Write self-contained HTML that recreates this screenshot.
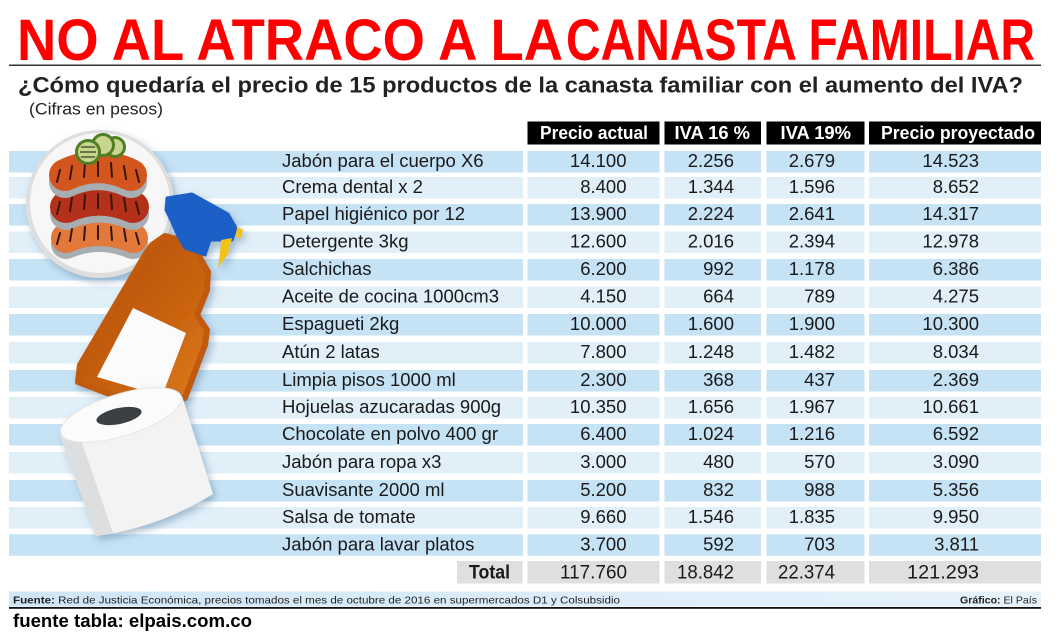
<!DOCTYPE html>
<html><head><meta charset="utf-8"><style>
html,body{margin:0;padding:0;background:#fff;}
svg{display:block;}
text{font-family:"Liberation Sans",sans-serif;}
</style></head><body>
<svg width="1056" height="640" viewBox="0 0 1056 640" xmlns="http://www.w3.org/2000/svg">
<defs>
<filter id="sh" x="-20%" y="-20%" width="140%" height="140%"><feDropShadow dx="3" dy="4" stdDeviation="4" flood-color="#4f7698" flood-opacity="0.45"/></filter>
<linearGradient id="bot" x1="0" y1="0" x2="1" y2="1"><stop offset="0" stop-color="#b04c0c"/><stop offset="0.6" stop-color="#c9620f"/><stop offset="1" stop-color="#e07c1c"/></linearGradient>
<linearGradient id="foot" x1="0" y1="0" x2="1" y2="0"><stop offset="0" stop-color="#cfe6f7"/><stop offset="1" stop-color="#e6f2fb"/></linearGradient>
</defs>

<!-- Title -->
<text x="17" y="60" font-weight="bold" font-size="58" fill="#ff0000" textLength="546" lengthAdjust="spacingAndGlyphs">NO AL ATRACO A LA</text>
<text x="566" y="60" font-weight="bold" font-size="58" fill="#ff0000" textLength="469" lengthAdjust="spacingAndGlyphs">CANASTA FAMILIAR</text>
<rect x="9" y="64.5" width="1032" height="1.5" fill="#333"/>

<text x="18" y="92.5" font-weight="bold" font-size="22" fill="#222" textLength="1005" lengthAdjust="spacingAndGlyphs">¿Cómo quedaría el precio de 15 productos de la canasta familiar con el aumento del IVA?</text>
<text x="29" y="114.5" font-size="17" fill="#222" textLength="134" lengthAdjust="spacingAndGlyphs">(Cifras en pesos)</text>

<!-- Header -->
<g fill="#000">
<rect x="527.5" y="121.5" width="132" height="23"/>
<rect x="664.5" y="121.5" width="96.5" height="23"/>
<rect x="766.5" y="121.5" width="98" height="23"/>
<rect x="869" y="121.5" width="172" height="23"/>
</g>
<g fill="#fff" font-weight="bold" font-size="18">
<text x="540" y="139" textLength="108" lengthAdjust="spacingAndGlyphs">Precio actual</text>
<text x="674.5" y="139" textLength="75.5" lengthAdjust="spacingAndGlyphs">IVA 16 %</text>
<text x="780.5" y="139" textLength="70.5" lengthAdjust="spacingAndGlyphs">IVA 19%</text>
<text x="881" y="139" textLength="154" lengthAdjust="spacingAndGlyphs">Precio proyectado</text>
</g>

<!-- Row backgrounds -->
<g>
<g fill="#c6e2f5">
<rect x="9" y="151" width="514" height="21.5"/><rect x="527.5" y="151" width="132" height="21.5"/><rect x="664.5" y="151" width="96.5" height="21.5"/><rect x="766.5" y="151" width="98" height="21.5"/><rect x="869" y="151" width="172" height="21.5"/>
<rect x="9" y="204" width="514" height="21.5"/><rect x="527.5" y="204" width="132" height="21.5"/><rect x="664.5" y="204" width="96.5" height="21.5"/><rect x="766.5" y="204" width="98" height="21.5"/><rect x="869" y="204" width="172" height="21.5"/>
<rect x="9" y="259" width="514" height="21.5"/><rect x="527.5" y="259" width="132" height="21.5"/><rect x="664.5" y="259" width="96.5" height="21.5"/><rect x="766.5" y="259" width="98" height="21.5"/><rect x="869" y="259" width="172" height="21.5"/>
<rect x="9" y="314" width="514" height="21.5"/><rect x="527.5" y="314" width="132" height="21.5"/><rect x="664.5" y="314" width="96.5" height="21.5"/><rect x="766.5" y="314" width="98" height="21.5"/><rect x="869" y="314" width="172" height="21.5"/>
<rect x="9" y="370" width="514" height="21.5"/><rect x="527.5" y="370" width="132" height="21.5"/><rect x="664.5" y="370" width="96.5" height="21.5"/><rect x="766.5" y="370" width="98" height="21.5"/><rect x="869" y="370" width="172" height="21.5"/>
<rect x="9" y="424" width="514" height="21.5"/><rect x="527.5" y="424" width="132" height="21.5"/><rect x="664.5" y="424" width="96.5" height="21.5"/><rect x="766.5" y="424" width="98" height="21.5"/><rect x="869" y="424" width="172" height="21.5"/>
<rect x="9" y="480" width="514" height="21.5"/><rect x="527.5" y="480" width="132" height="21.5"/><rect x="664.5" y="480" width="96.5" height="21.5"/><rect x="766.5" y="480" width="98" height="21.5"/><rect x="869" y="480" width="172" height="21.5"/>
<rect x="9" y="534.3" width="514" height="21.5"/><rect x="527.5" y="534.3" width="132" height="21.5"/><rect x="664.5" y="534.3" width="96.5" height="21.5"/><rect x="766.5" y="534.3" width="98" height="21.5"/><rect x="869" y="534.3" width="172" height="21.5"/>
</g>
<g fill="#e1eff9">
<rect x="9" y="177" width="514" height="21.5"/><rect x="527.5" y="177" width="132" height="21.5"/><rect x="664.5" y="177" width="96.5" height="21.5"/><rect x="766.5" y="177" width="98" height="21.5"/><rect x="869" y="177" width="172" height="21.5"/>
<rect x="9" y="231.5" width="514" height="21.5"/><rect x="527.5" y="231.5" width="132" height="21.5"/><rect x="664.5" y="231.5" width="96.5" height="21.5"/><rect x="766.5" y="231.5" width="98" height="21.5"/><rect x="869" y="231.5" width="172" height="21.5"/>
<rect x="9" y="286.5" width="514" height="21.5"/><rect x="527.5" y="286.5" width="132" height="21.5"/><rect x="664.5" y="286.5" width="96.5" height="21.5"/><rect x="766.5" y="286.5" width="98" height="21.5"/><rect x="869" y="286.5" width="172" height="21.5"/>
<rect x="9" y="342" width="514" height="21.5"/><rect x="527.5" y="342" width="132" height="21.5"/><rect x="664.5" y="342" width="96.5" height="21.5"/><rect x="766.5" y="342" width="98" height="21.5"/><rect x="869" y="342" width="172" height="21.5"/>
<rect x="9" y="397" width="514" height="21.5"/><rect x="527.5" y="397" width="132" height="21.5"/><rect x="664.5" y="397" width="96.5" height="21.5"/><rect x="766.5" y="397" width="98" height="21.5"/><rect x="869" y="397" width="172" height="21.5"/>
<rect x="9" y="452" width="514" height="21.5"/><rect x="527.5" y="452" width="132" height="21.5"/><rect x="664.5" y="452" width="96.5" height="21.5"/><rect x="766.5" y="452" width="98" height="21.5"/><rect x="869" y="452" width="172" height="21.5"/>
<rect x="9" y="507" width="514" height="21.5"/><rect x="527.5" y="507" width="132" height="21.5"/><rect x="664.5" y="507" width="96.5" height="21.5"/><rect x="766.5" y="507" width="98" height="21.5"/><rect x="869" y="507" width="172" height="21.5"/>
</g>
</g>

<!-- Total row -->
<g fill="#dfdfdf">
<rect x="457" y="561" width="65.5" height="22.5"/>
<rect x="527.5" y="561" width="132" height="22.5"/>
<rect x="664.5" y="561" width="96.5" height="22.5"/>
<rect x="766.5" y="561" width="98" height="22.5"/>
<rect x="869" y="561" width="172" height="22.5"/>
</g>

<!-- Illustrations -->
<g filter="url(#sh)">
<circle cx="100" cy="204" r="74" fill="#dedede"/>
<circle cx="100" cy="203" r="70" fill="#f7f7f7"/>
</g>
<g stroke-linecap="round" fill="none">
<path d="M66,244 Q99,230 133,244" stroke="#a8adb2" stroke-width="30"/>
<path d="M66,238 Q99,224 133,238" stroke="#e2793a" stroke-width="30"/>
<path d="M66,214 Q99,199 133,214" stroke="#a8adb2" stroke-width="32"/>
<path d="M66,207 Q99,192 133,207" stroke="#b3311a" stroke-width="32"/>
<path d="M65,182 Q98,166 131,182" stroke="#a8adb2" stroke-width="32"/>
<path d="M65,175 Q98,159 131,175" stroke="#d4561f" stroke-width="32"/>
</g>
<g stroke="#3a1508" stroke-width="2" stroke-linecap="round">
<path d="M60,170 l-3,12 M72,166 l-2,13 M85,163 l-1,14 M98,162 l0,14 M111,163 l1,14 M124,166 l2,13 M136,170 l3,12"/>
<path d="M60,202 l-3,12 M72,198 l-2,13 M85,195 l-1,14 M98,194 l0,14 M111,195 l1,14 M124,198 l2,13 M136,202 l3,12"/>
<path d="M60,233 l-3,11 M72,229 l-2,12 M85,227 l-1,13 M98,226 l0,13 M111,227 l1,13 M124,229 l2,12 M136,233 l3,11"/>
</g>
<g>
<circle cx="115" cy="147" r="11" fill="#4f7f22"/><circle cx="115" cy="147" r="8" fill="#c8d490"/>
<circle cx="103" cy="145" r="12" fill="#4f7f22"/><circle cx="103" cy="145" r="9" fill="#c8d490"/>
<circle cx="88" cy="152" r="13" fill="#4f7f22"/><circle cx="88" cy="152" r="10" fill="#c8d490"/>
<path d="M81,147 h14 M80,152 h16 M81,157 h14" stroke="#4a5a2a" stroke-width="1.5"/>
</g>

<!-- Spray bottle -->
<g filter="url(#sh)">
<path d="M165,236 L198,244 L200,258 L208,272 L207,290 L197,315 L207,330 L205,345 L185,398 L130,402 L78,382 L80,365 L145,255 L152,245 Z" fill="url(#bot)" stroke="#c15a10" stroke-width="6" stroke-linejoin="round"/>
<path d="M133,308 L186,333 L162,396 L97,377 Z" fill="#fbfbfb"/>
<path d="M167,198 L192,194 L228,214 L236,228 L232,240 L210,240 L205,255 L185,248 L178,236 L172,222 L166,210 Z" fill="#1c5fc6" stroke="#1c5fc6" stroke-width="3" stroke-linejoin="round"/>
<path d="M237,227 L243,230 L241,238 L236,237 Z" fill="#f2c21a"/>
<path d="M221,240 L232,238 L228,254 L218,268 L220,253 Z" fill="#f2c21a"/>
</g>

<!-- Toilet roll -->
<g filter="url(#sh)">
<path d="M60,436 L96,536 Q158,528 213,494 L182,396 Z" fill="#f3f3f3"/>
<path d="M60,436 L96,536 L113,533 L78,431 Z" fill="#dcdedf"/>
<ellipse cx="121" cy="415" rx="63" ry="21" transform="rotate(-17 121 415)" fill="#fbfbfb" stroke="#e6e6e6" stroke-width="1"/>
<ellipse cx="119" cy="416" rx="23" ry="8" transform="rotate(-12 119 416)" fill="#3a3f45"/>
</g>

<!-- Labels -->
<g font-size="18.5" fill="#1a1a1a">
<text x="282" y="167">Jabón para el cuerpo X6</text>
<text x="282" y="193">Crema dental x 2</text>
<text x="282" y="220">Papel higiénico por 12</text>
<text x="282" y="247.5">Detergente 3kg</text>
<text x="282" y="275">Salchichas</text>
<text x="282" y="302.5">Aceite de cocina 1000cm3</text>
<text x="282" y="330">Espagueti 2kg</text>
<text x="282" y="358">Atún 2 latas</text>
<text x="282" y="386">Limpia pisos 1000 ml</text>
<text x="282" y="413">Hojuelas azucaradas 900g</text>
<text x="282" y="440">Chocolate en polvo 400 gr</text>
<text x="282" y="468">Jabón para ropa x3</text>
<text x="282" y="496">Suavisante 2000 ml</text>
<text x="282" y="523">Salsa de tomate</text>
<text x="282" y="550.3">Jabón para lavar platos</text>
</g>

<!-- Numbers -->
<g font-size="18.5" fill="#1a1a1a" text-anchor="end">
<g transform="translate(626.5,0)">
<text y="167">14.100</text><text y="193">8.400</text><text y="220">13.900</text><text y="247.5">12.600</text><text y="275">6.200</text><text y="302.5">4.150</text><text y="330">10.000</text><text y="358">7.800</text><text y="386">2.300</text><text y="413">10.350</text><text y="440">6.400</text><text y="468">3.000</text><text y="496">5.200</text><text y="523">9.660</text><text y="550.3">3.700</text>
</g>
<g transform="translate(734,0)">
<text y="167">2.256</text><text y="193">1.344</text><text y="220">2.224</text><text y="247.5">2.016</text><text y="275">992</text><text y="302.5">664</text><text y="330">1.600</text><text y="358">1.248</text><text y="386">368</text><text y="413">1.656</text><text y="440">1.024</text><text y="468">480</text><text y="496">832</text><text y="523">1.546</text><text y="550.3">592</text>
</g>
<g transform="translate(835,0)">
<text y="167">2.679</text><text y="193">1.596</text><text y="220">2.641</text><text y="247.5">2.394</text><text y="275">1.178</text><text y="302.5">789</text><text y="330">1.900</text><text y="358">1.482</text><text y="386">437</text><text y="413">1.967</text><text y="440">1.216</text><text y="468">570</text><text y="496">988</text><text y="523">1.835</text><text y="550.3">703</text>
</g>
<g transform="translate(979,0)">
<text y="167">14.523</text><text y="193">8.652</text><text y="220">14.317</text><text y="247.5">12.978</text><text y="275">6.386</text><text y="302.5">4.275</text><text y="330">10.300</text><text y="358">8.034</text><text y="386">2.369</text><text y="413">10.661</text><text y="440">6.592</text><text y="468">3.090</text><text y="496">5.356</text><text y="523">9.950</text><text y="550.3">3.811</text>
</g>
</g>

<!-- Totals -->
<text x="469" y="578.5" font-weight="bold" font-size="19.5" fill="#1a1a1a" textLength="41" lengthAdjust="spacingAndGlyphs">Total</text>
<g font-size="19.5" fill="#1a1a1a">
<text x="560" y="578.5" textLength="67" lengthAdjust="spacingAndGlyphs">117.760</text>
<text x="677" y="578.5" textLength="57" lengthAdjust="spacingAndGlyphs">18.842</text>
<text x="778" y="578.5" textLength="57" lengthAdjust="spacingAndGlyphs">22.374</text>
<text x="907" y="578.5" textLength="72" lengthAdjust="spacingAndGlyphs">121.293</text>
</g>

<!-- Footer -->
<rect x="9" y="591.5" width="1032" height="15" fill="url(#foot)"/>
<rect x="9" y="607" width="1032" height="1.8" fill="#111"/>
<text x="13" y="603.5" font-size="10.5" fill="#222" textLength="607" lengthAdjust="spacingAndGlyphs"><tspan font-weight="bold">Fuente:</tspan> Red de Justicia Económica, precios tomados el mes de octubre de 2016 en supermercados D1 y Colsubsidio</text>
<text x="960" y="603.5" font-size="10.5" fill="#222" textLength="77" lengthAdjust="spacingAndGlyphs"><tspan font-weight="bold">Gráfico:</tspan> El País</text>

<text x="13" y="627" font-weight="bold" font-size="18" fill="#000" textLength="239" lengthAdjust="spacingAndGlyphs">fuente tabla: elpais.com.co</text>
</svg>
</body></html>
